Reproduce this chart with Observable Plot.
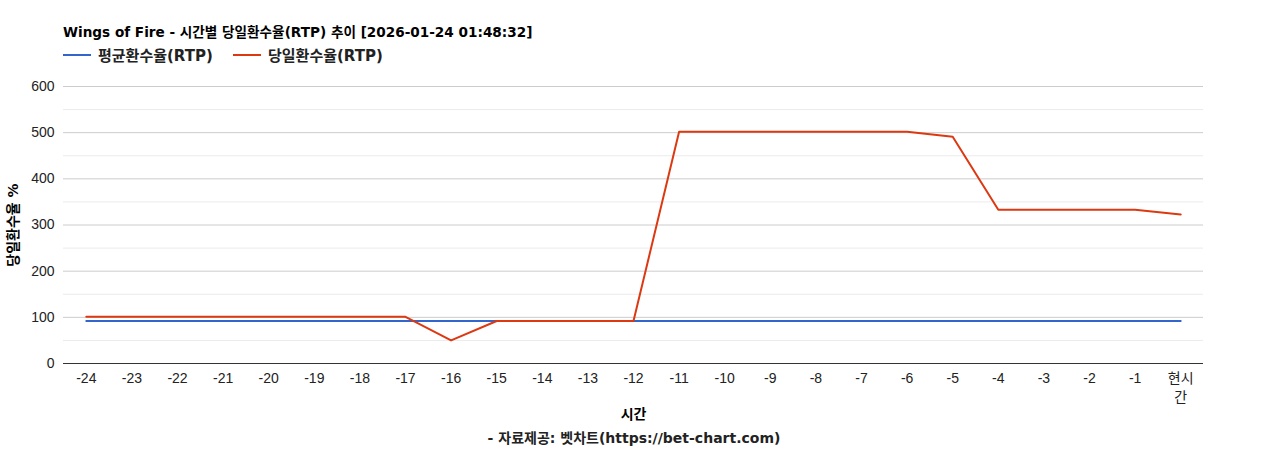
<!DOCTYPE html>
<html><head><meta charset="utf-8">
<script src="https://cdn.jsdelivr.net/npm/d3@7"></script>
<script src="https://cdn.jsdelivr.net/npm/@observablehq/plot@0.6"></script>
<style>
body{margin:0;background:#fff;font-family:"Liberation Sans","Noto Sans CJK KR",sans-serif;}
#wrap{width:1268px;}
#title{position:relative;height:70px;}
.bf{font-family:"DejaVu Sans","Noto Sans CJK KR",sans-serif;}
#title .t{position:absolute;left:63px;top:21px;font-weight:bold;font-size:13.6px;color:#000;white-space:nowrap;}
.lg{position:absolute;top:44px;font-weight:bold;font-size:15px;color:#222;display:flex;align-items:center;white-space:nowrap;}
.lg span.sw{display:inline-block;width:28px;height:2px;margin-right:7px;}
#cap{text-align:center;font-weight:bold;font-size:14px;color:#222;margin-top:0px;}
svg text{font-family:"Liberation Sans","Noto Sans CJK KR",sans-serif;}
</style></head>
<body><div id="wrap">
<div id="title"><div class="t bf">Wings of Fire - 시간별 당일환수율(RTP) 추이 [2026-01-24 01:48:32]</div>
<div class="lg bf" style="left:63px"><span class="sw" style="background:#3366cc"></span>평균환수율(RTP)</div>
<div class="lg bf" style="left:233px"><span class="sw" style="background:#dc3912"></span>당일환수율(RTP)</div>
</div>
<div id="chart"></div>
<div id="cap" class="bf">- 자료제공: 벳차트(https://bet-chart.com)</div>
</div>
<script>
const hours = ["-24","-23","-22","-21","-20","-19","-18","-17","-16","-15","-14","-13","-12","-11","-10","-9","-8","-7","-6","-5","-4","-3","-2","-1","현시간"];
const avgRtp = [92,92,92,92,92,92,92,92,92,92,92,92,92,92,92,92,92,92,92,92,92,92,92,92,92];
const dayRtp = [101,101,101,101,101,101,101,101,50,92,92,92,92,502,502,502,502,502,502,491,333,333,333,333,323];
const yTicks = [0,100,200,300,400,500,600];
const yMinor = [50,150,250,350,450,550];

const rows = [];
hours.forEach((h,i)=>{rows.push({h,v:avgRtp[i],s:"avg"});});
hours.forEach((h,i)=>{rows.push({h,v:dayRtp[i],s:"day"});});

const chart = Plot.plot({
  width:1268, height:357,
  marginLeft:63, marginRight:65, marginTop:16, marginBottom:64,
  style:{fontSize:"14px", color:"#222", background:"#fff"},
  x:{type:"point", domain:hours, padding:0.5, round:false, label:"시간", labelAnchor:"center", labelArrow:"none"},
  y:{domain:[0,600], label:"당일환수율 %", labelAnchor:"center", labelArrow:"none"},
  color:{domain:["avg","day"], range:["#3366cc","#dc3912"]},
  marks:[
    Plot.ruleY(yMinor,{stroke:"#ebebeb"}),
    Plot.ruleY(yTicks.slice(1),{stroke:"#cccccc"}),
    Plot.axisX({tickSize:0, tickPadding:6, fontSize:14, lineHeight:1.35, tickFormat:d=>d==="현시간"?"현시\n간":d, label:"시간", labelAnchor:"center", labelArrow:"none", labelOffset:55}),
    Plot.axisY({ticks:yTicks, tickSize:0, tickPadding:9, fontSize:14, label:"당일환수율 %", labelAnchor:"center", labelArrow:"none", labelOffset:55}),
    Plot.line(rows,{x:"h", y:"v", z:"s", stroke:"s", strokeWidth:2}),
    Plot.ruleY([0],{stroke:"#333"})
  ]
});
d3.select(chart).selectAll("[aria-label='x-axis label'] text, [aria-label='y-axis label'] text").style("font-weight","bold").style("fill","#000").style("font-family","'DejaVu Sans','Noto Sans CJK KR',sans-serif");
document.getElementById("chart").appendChild(chart);
</script>
</body></html>
